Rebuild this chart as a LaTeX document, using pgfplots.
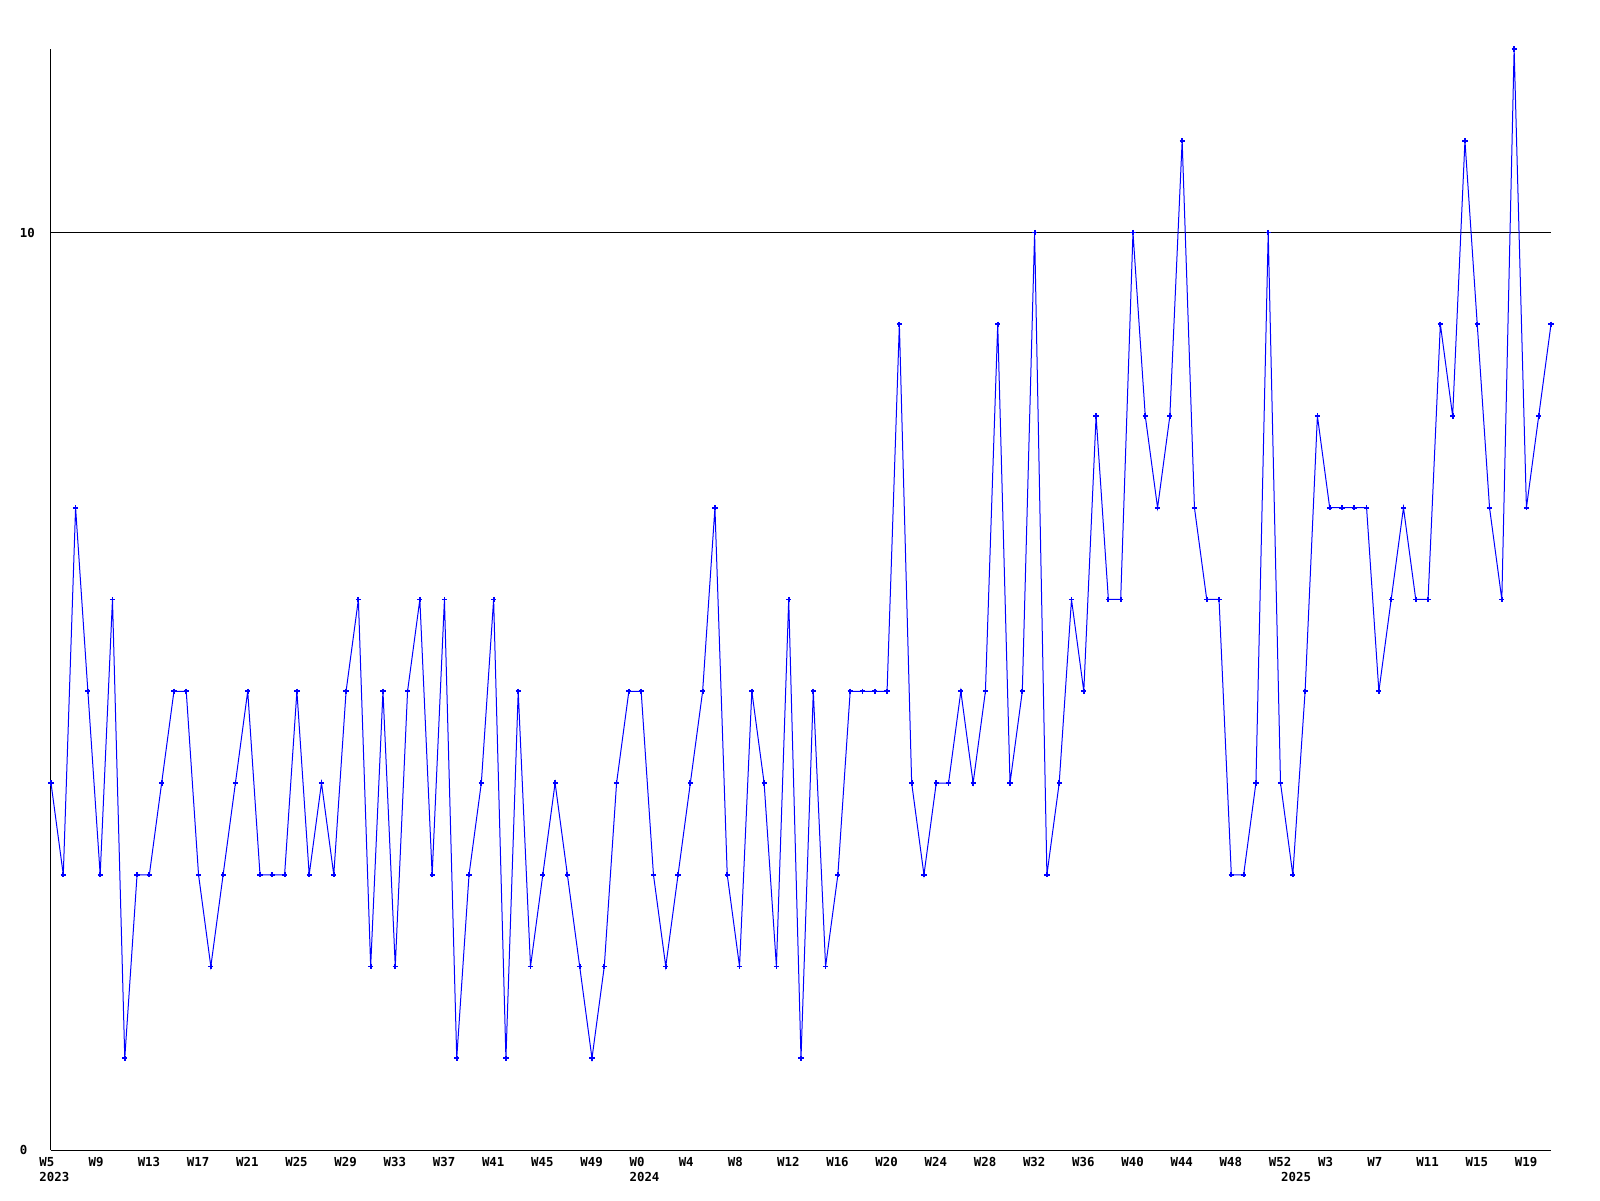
\documentclass[border=0pt]{standalone}
\usepackage{fontspec}
\setmainfont{DejaVu Sans Mono}
\usepackage{pgfplots}
\pgfplotsset{compat=1.18}
\begin{document}
\begin{tikzpicture}
\useasboundingbox (-25.5pt,-25pt) rectangle (774.5pt,575pt);
\begin{axis}[
  at={(0,0)}, anchor=south west,
  scale only axis, width=750pt, height=550.5pt,
  xmin=0, xmax=122, ymin=0, ymax=12,
  axis x line*=bottom, axis y line*=left,
  axis line style={black, line width=0.5pt},
  clip=false,
  major tick length=0pt,
  xtick={0,4,...,120},
  xticklabels={{W5\\2023},W9,W13,W17,W21,W25,W29,W33,W37,W41,W45,W49,{W0\\2024},W4,W8,W12,W16,W20,W24,W28,W32,W36,W40,W44,W48,W52,W3,W7,W11,W15,W19},
  extra x ticks={101},
  extra x tick labels={2025},
  extra x tick style={xticklabel style={yshift=-7.5pt}, grid=none},
  xticklabel style={anchor=north west, inner sep=0pt, xshift=-6pt, yshift=-3.5pt, align=left, font=\fontsize{6.2}{7.5}\selectfont\bfseries},
  ytick={0,10},
  yticklabels={0,10},
  yticklabel style={anchor=west, inner sep=0pt, xshift=-15.8pt, font=\fontsize{6.2}{7.5}\selectfont\bfseries},
  ymajorgrids,
  grid style={black, line width=0.5pt},
  /pgf/number format/assume math mode=true,
]
\addplot[color={rgb,255:red,0;green,0;blue,255}, line width=0.5pt, mark=+, mark size=1.3pt, mark options={line width=0.9pt}] coordinates {
(0,4)(1,3)(2,7)(3,5)(4,3)(5,6)(6,1)(7,3)(8,3)(9,4)
(10,5)(11,5)(12,3)(13,2)(14,3)(15,4)(16,5)(17,3)(18,3)(19,3)
(20,5)(21,3)(22,4)(23,3)(24,5)(25,6)(26,2)(27,5)(28,2)(29,5)
(30,6)(31,3)(32,6)(33,1)(34,3)(35,4)(36,6)(37,1)(38,5)(39,2)
(40,3)(41,4)(42,3)(43,2)(44,1)(45,2)(46,4)(47,5)(48,5)(49,3)
(50,2)(51,3)(52,4)(53,5)(54,7)(55,3)(56,2)(57,5)(58,4)(59,2)
(60,6)(61,1)(62,5)(63,2)(64,3)(65,5)(66,5)(67,5)(68,5)(69,9)
(70,4)(71,3)(72,4)(73,4)(74,5)(75,4)(76,5)(77,9)(78,4)(79,5)
(80,10)(81,3)(82,4)(83,6)(84,5)(85,8)(86,6)(87,6)(88,10)(89,8)
(90,7)(91,8)(92,11)(93,7)(94,6)(95,6)(96,3)(97,3)(98,4)(99,10)
(100,4)(101,3)(102,5)(103,8)(104,7)(105,7)(106,7)(107,7)(108,5)(109,6)
(110,7)(111,6)(112,6)(113,9)(114,8)(115,11)(116,9)(117,7)(118,6)(119,12)
(120,7)(121,8)(122,9)
};
\end{axis}
\end{tikzpicture}
\end{document}
